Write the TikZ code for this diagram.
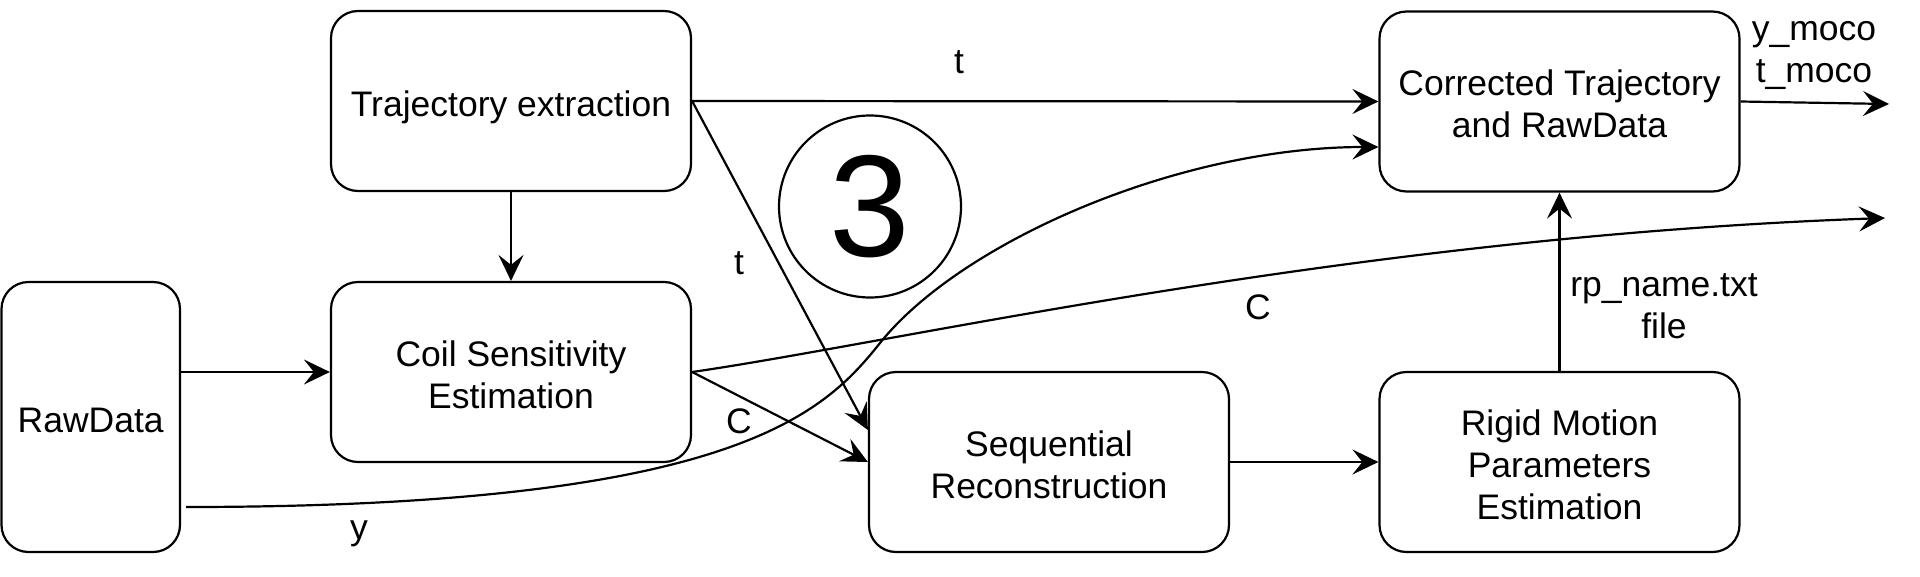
\documentclass[tikz,border=0pt]{standalone}
\usepackage{fontspec}
\setmainfont{Liberation Sans}
\usetikzlibrary{arrows.meta}
\newcommand\ustrut{\rule{0pt}{38pt}}
\newcommand\dstrut{\rule[-8pt]{0pt}{0pt}}
\begin{document}
\begin{tikzpicture}[x=1pt,y=-1pt,
  box/.style={draw, line width=2.2pt, rounded corners=27pt, align=center, inner sep=0pt,
    minimum width=360pt, minimum height=180pt, font=\fontsize{35.5}{42}\selectfont},
  conn/.style={line width=2.2pt, -{Stealth[length=26pt,width=25pt,inset=10pt]}},
  lbl/.style={font=\fontsize{35.5}{42}\selectfont, inner sep=0pt, align=center}
]
\useasboundingbox (0,0) rectangle (1920,576);
% boxes
\node[box, minimum width=178.5pt, minimum height=270pt] (raw) at (90.75,417) {\ustrut RawData\dstrut};
\node[box] (traj) at (511,101) {\ustrut Trajectory extraction\dstrut};
\node[box] (coil) at (511,372) {\ustrut Coil Sensitivity\\Estimation\dstrut};
\node[box] (seq) at (1049,462) {\ustrut Sequential\\Reconstruction\dstrut};
\node[box] (corr) at (1559.5,101.5) {\ustrut Corrected Trajectory\\and RawData\dstrut};
\node[box] (rigid) at (1559.5,462) {\ustrut Rigid Motion\\Parameters\\Estimation\dstrut};
% circle 3
\node[draw, circle, line width=2.2pt, minimum size=182pt, inner sep=0pt,
  font=\fontsize{145}{145}\selectfont] (three) at (870,206.5) {3};
% free ends
\coordinate (outc) at (1885,218);
\coordinate (outm) at (1889,104);
\coordinate (ymid) at (880,343);
% connectors
\draw[conn] (traj.south) -- (coil.north);
\draw[conn] (raw.east |- coil.west) -- (coil.west);
\draw[conn] (traj.east) -- (corr.west);
\draw[conn] (traj.east) -- ([yshift=32pt]seq.west);
\draw[conn] (coil.east) -- (seq.west);
\draw[conn] (coil.east) .. controls (900,342) and (1350,237) .. (outc);
\draw[conn] ([xshift=5pt,yshift=-90pt]raw.east) .. controls (735,507) and (824,413) .. (ymid)
   .. controls (961,242) and (1178,147) .. ([yshift=-45.5pt]corr.west);
\draw[conn] (seq.east) -- (rigid.west);
\draw[conn] (rigid.north) -- (corr.south);
\draw[conn] (corr.east) -- (outm);
% labels
\node[lbl] (lt1) at (959,62) {t};
\node[lbl] (lt2) at (739,263) {t};
\node[lbl] (lc1) at (739,421) {C};
\node[lbl] (lc2) at (1258,307) {C};
\node[lbl] (ly) at (359,534) {y};
\node[lbl] (lrp) at (1664,306) {rp\_name.txt\\file};
\node[lbl] (lmoco) at (1814,55) {y\_moco\\t\_moco};
\end{tikzpicture}
\end{document}
